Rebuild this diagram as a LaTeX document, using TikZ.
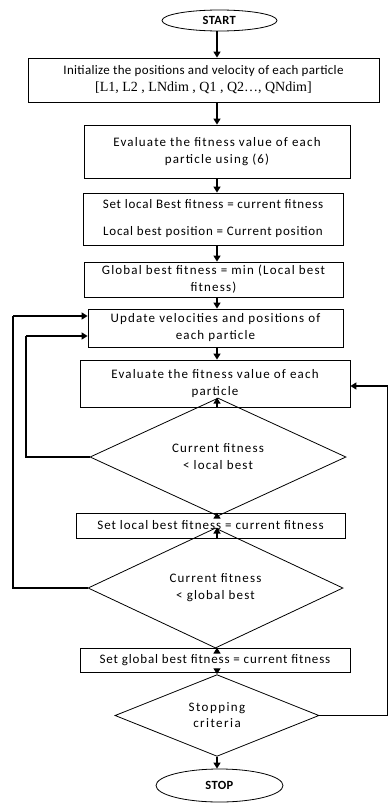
\documentclass[tikz,border=0pt]{standalone}
\usepackage{fontspec}
\setmainfont{Carlito}
\newfontfamily\serifTNR{Liberation Serif}
\newcommand{\lsp}[1]{\addfontfeatures{LetterSpace=#1}}
\usetikzlibrary{shapes.geometric,arrows.meta}
\begin{document}
\begin{tikzpicture}[x=1pt,y=1pt,
  every node/.style={font=\fontsize{13}{17}\selectfont\lsp{9}, align=center, inner sep=0pt},
  boxnode/.style={draw, line width=0.8pt, rectangle},
  dia/.style={draw, line width=0.8pt, diamond},
  term/.style={draw, line width=0.8pt, ellipse},
  arr/.style={line width=1.4pt, -{Triangle[length=6pt,width=7pt]}},
  loopline/.style={line width=1.6pt}]
\useasboundingbox (0,0) rectangle (388,-803);
\node[term, minimum width=115pt, minimum height=21pt, font=\fontsize{12.5}{15}\selectfont\lsp{3}] (start) at (219.5,-20.5) {\textbf{START}};
\node[boxnode, minimum width=351pt, minimum height=44pt, font=\fontsize{13}{17}\selectfont\lsp{2.5}] (init) at (203.5,-80) {Initialize the positions and velocity of each particle\\ {\serifTNR\fontsize{14}{17}\selectfont [L1, L2 , LNdim , Q1 , Q2\dots, QNdim]}};
\node[boxnode, minimum width=266pt, minimum height=53pt] (eval1) at (217,-151.5) {Evaluate the fitness value of each\\ particle using (6)};
\node[boxnode, minimum width=260pt, minimum height=52pt, font=\fontsize{13}{27}\selectfont\lsp{6}] (setlocal) at (213,-219) {Set local Best fitness = current fitness\\ Local best position = Current position};
\node[boxnode, minimum width=259pt, minimum height=35pt] (global) at (213.5,-279.5) {Global best fitness = min (Local best\\ fitness)};
\node[boxnode, minimum width=255pt, minimum height=38pt] (update) at (215.5,-328) {Update velocities and positions of\\ each particle};
\node[boxnode, minimum width=270pt, minimum height=47pt] (eval2) at (215,-383.5) {Evaluate the fitness value of each\\ particle};
\node[dia, minimum width=256pt, minimum height=83pt] (d1) at (218,-457) {Current fitness\\ {<} local best};
\node[boxnode, minimum width=269pt, minimum height=25pt, font=\fontsize{13}{17}\selectfont\lsp{7.5}] (setlb) at (210.5,-525.5) {Set local best fitness = current fitness};
\node[dia, minimum width=255pt, minimum height=78pt] (d2) at (215.5,-588) {Current fitness\\ {<} global best};
\node[boxnode, minimum width=270pt, minimum height=24pt, font=\fontsize{13}{17}\selectfont\lsp{6.5}] (setgb) at (215,-660) {Set global best fitness = current fitness};
\node[dia, minimum width=204pt, minimum height=75pt, font=\fontsize{13}{16}\selectfont\lsp{11}] (d3) at (217,-715.5) {Stopping\\ criteria};
\node[term, minimum width=127pt, minimum height=33pt, font=\fontsize{12.5}{15}\selectfont\lsp{3}] (stop) at (219.5,-785.5) {\textbf{STOP}};
\coordinate (ax) at (217,0);
\draw[arr] (start.south -| ax) -- (init.north -| ax);
\draw[arr] (init.south -| ax) -- (eval1.north -| ax);
\draw[arr] (eval1.south -| ax) -- (setlocal.north -| ax);
\draw[arr] (setlocal.south -| ax) -- (global.north -| ax);
\draw[arr] (global.south -| ax) -- (update.north -| ax);
\draw[arr] (update.south -| ax) -- (eval2.north -| ax);
\draw[arr] (eval2.south -| ax) -- (d1.north -| ax);
\draw[arr] (d1.south -| ax) -- (setlb.north -| ax);
\draw[arr] (setlb.south -| ax) -- (d2.north -| ax);
\draw[arr] (d2.south -| ax) -- (setgb.north -| ax);
\draw[arr] (setgb.south -| ax) -- (d3.north -| ax);
\draw[arr] (d3.south -| ax) -- (stop.north -| ax);
% loops
\coordinate (lo) at (13,-316);
\coordinate (li) at (26,-336);
\coordinate (re) at (388,-386);
\draw[loopline] (d2.west) -| (lo);
\draw[loopline,arr] (lo) -- (lo -| update.west);
\draw[loopline] (d1.west) -| (li);
\draw[loopline,arr] (li) -- (li -| update.west);
\draw[loopline] (d3.east) -| (re);
\draw[loopline,arr] (re) -- (re -| eval2.east);
\end{tikzpicture}
\end{document}
